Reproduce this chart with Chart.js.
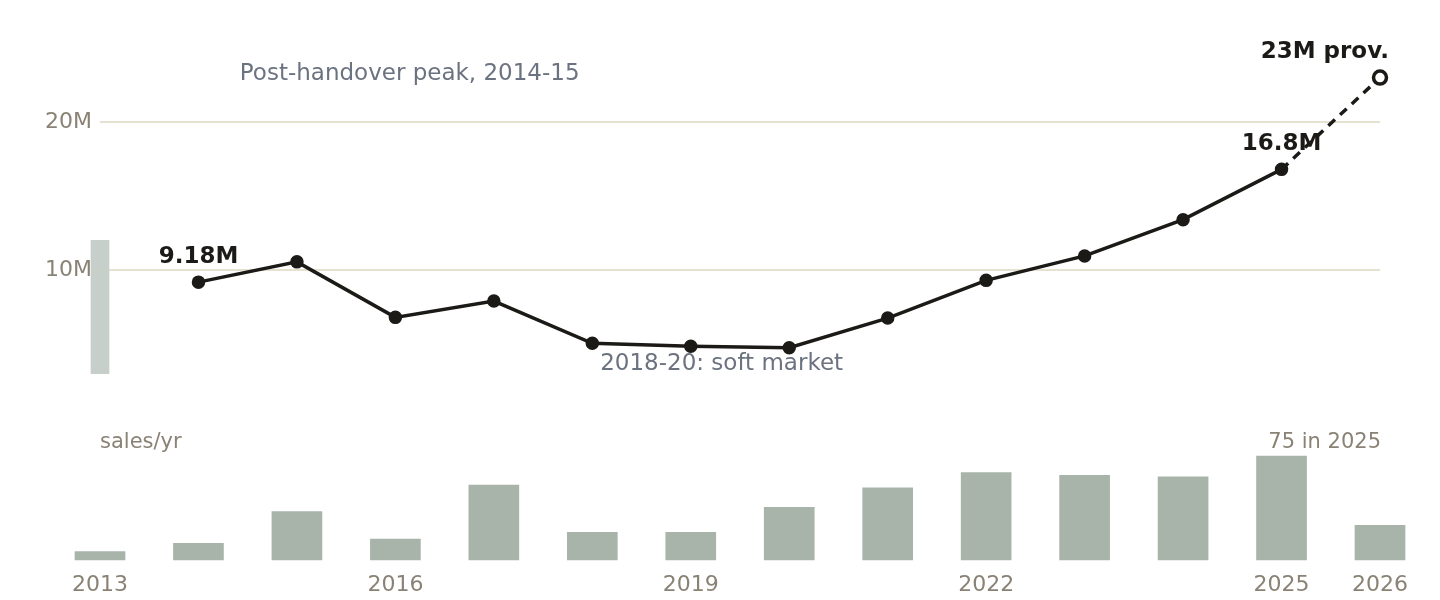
<!DOCTYPE html>
<html>
<head>
<meta charset="utf-8">
<script src="https://cdn.jsdelivr.net/npm/chart.js@4.4.1/dist/chart.umd.min.js"></script>
<style>
  body { margin: 0; background: #fff; width: 1440px; height: 600px; overflow: hidden; }
  #top { position: absolute; left: 0; top: 0; }
  #bottom { position: absolute; left: 0; top: 430px; }
</style>
</head>
<body>
<canvas id="top" width="1440" height="430"></canvas>
<canvas id="bottom" width="1440" height="170"></canvas>
<script>
// data
var years = ['2013','2014','2015','2016','2017','2018','2019','2020','2021','2022','2023','2024','2025','2026'];
var volume = [null, 9.18, 10.55, 6.8, 7.9, 5.05, 4.85, 4.75, 6.75, 9.3, 10.95, 13.4, 16.8, null]; // M, sold
var provisional = [null, null, null, null, null, null, null, null, null, null, null, null, 16.8, 23];
var rangeBand = [[3, 12], null, null, null, null, null, null, null, null, null, null, null, null, null];
var salesPerYear = [6, 12, 35, 15, 54, 20, 20, 38, 52, 63, 61, 60, 75, 25];
var yTicks = [10, 20];
var xTicks = ['2013','2016','2019','2022','2025','2026'];

var tickColor = '#8a8275';
var noteColor = '#6b7280';
var ink = '#1c1a17';
var font = "'DejaVu Sans', sans-serif";

// text notes drawn at data positions
var topNotes = [
  { text: 'Post-handover peak, 2014-15', x: 1.42, y: 23.4, dy: 2, align: 'left', bold: false, size: 23, color: noteColor },
  { text: '2018-20: soft market', x: 5.08, y: 3.78, dy: 2, align: 'left', bold: false, size: 23, color: noteColor },
  { text: '9.18M', x: 1, y: 9.18, dy: -25, align: 'center', bold: true, size: 23, color: ink },
  { text: '16.8M', x: 12, y: 16.8, dy: -25, align: 'center', bold: true, size: 23, color: ink },
  { text: '23M prov.', x: 13, y: 23, dy: -26, dx: 9, align: 'right', bold: true, size: 23, color: ink }
];
var bottomNotes = [
  { text: 'sales/yr', x: 0, y: 75, dy: -13, align: 'left', bold: false, size: 21, color: tickColor },
  { text: '75 in 2025', x: 13, y: 75, dy: -13, dx: 1, align: 'right', bold: false, size: 21, color: tickColor }
];

var notesPlugin = {
  id: 'notes',
  afterDatasetsDraw: function(chart, args, opts) {
    var ctx = chart.ctx;
    var xs = chart.scales.x, ys = chart.scales.y;
    ctx.save();
    opts.items.forEach(function(n) {
      ctx.font = (n.bold ? 'bold ' : '') + n.size + 'px ' + font;
      ctx.fillStyle = n.color;
      ctx.textAlign = n.align;
      ctx.textBaseline = 'middle';
      ctx.fillText(n.text, xs.getPixelForValue(n.x) + (n.dx || 0), ys.getPixelForValue(n.y) + n.dy);
    });
    ctx.restore();
  }
};

new Chart(document.getElementById('top'), {
  data: {
    labels: years,
    datasets: [
      {
        type: 'line',
        data: volume,
        borderColor: ink,
        borderWidth: 3.5,
        pointRadius: 5,
        pointBackgroundColor: ink,
        pointBorderColor: ink,
        tension: 0,
        clip: false,
        order: 1
      },
      {
        type: 'line',
        data: provisional,
        borderColor: ink,
        borderWidth: 3.5,
        borderDash: [9, 7],
        pointRadius: [0,0,0,0,0,0,0,0,0,0,0,0,0,6.5],
        pointBackgroundColor: '#fff',
        pointBorderColor: ink,
        pointBorderWidth: 3.5,
        clip: false,
        order: 2
      },
      {
        type: 'bar',
        data: rangeBand,
        backgroundColor: '#c6cfc9',
        barThickness: 18,
        clip: false,
        order: 3
      }
    ]
  },
  options: {
    responsive: false,
    animation: false,
    layout: { padding: { left: 40, right: 60, top: 48, bottom: 12 } },
    plugins: { legend: { display: false }, tooltip: { enabled: false }, notes: { items: topNotes } },
    scales: {
      x: { display: false, offset: false },
      y: {
        min: 0, max: 25,
        afterBuildTicks: function(axis) { axis.ticks = yTicks.map(function(v) { return { value: v }; }); },
        afterFit: function(axis) {
          axis.width = 60;
          axis.paddingTop = 0;
          axis.paddingBottom = 0;
        },
        border: { display: false },
        grid: { color: '#e6e1d1', lineWidth: 2, drawTicks: false },
        ticks: {
          padding: 8,
          color: tickColor,
          font: { family: font, size: 22 },
          callback: function(v) { return v + 'M'; }
        }
      }
    }
  },
  plugins: [notesPlugin]
});

new Chart(document.getElementById('bottom'), {
  type: 'bar',
  data: {
    labels: years,
    datasets: [{
      data: salesPerYear,
      backgroundColor: '#a8b4aa',
      barThickness: 50,
      clip: false
    }]
  },
  options: {
    responsive: false,
    animation: false,
    layout: { padding: { left: 100, right: 60, top: 0, bottom: 0 } },
    plugins: { legend: { display: false }, tooltip: { enabled: false }, notes: { items: bottomNotes } },
    scales: {
      x: {
        offset: false,
        afterFit: function(axis) { axis.height = 40; },
        border: { display: false },
        grid: { display: false, drawTicks: false },
        ticks: {
          autoSkip: false,
          maxRotation: 0,
          padding: 12,
          color: tickColor,
          font: { family: font, size: 22 },
          callback: function(v, i) { return xTicks.indexOf(years[i]) >= 0 ? years[i] : ''; }
        }
      },
      y: { display: false, min: 0, max: 93.75 }
    }
  },
  plugins: [notesPlugin]
});
</script>
</body>
</html>
